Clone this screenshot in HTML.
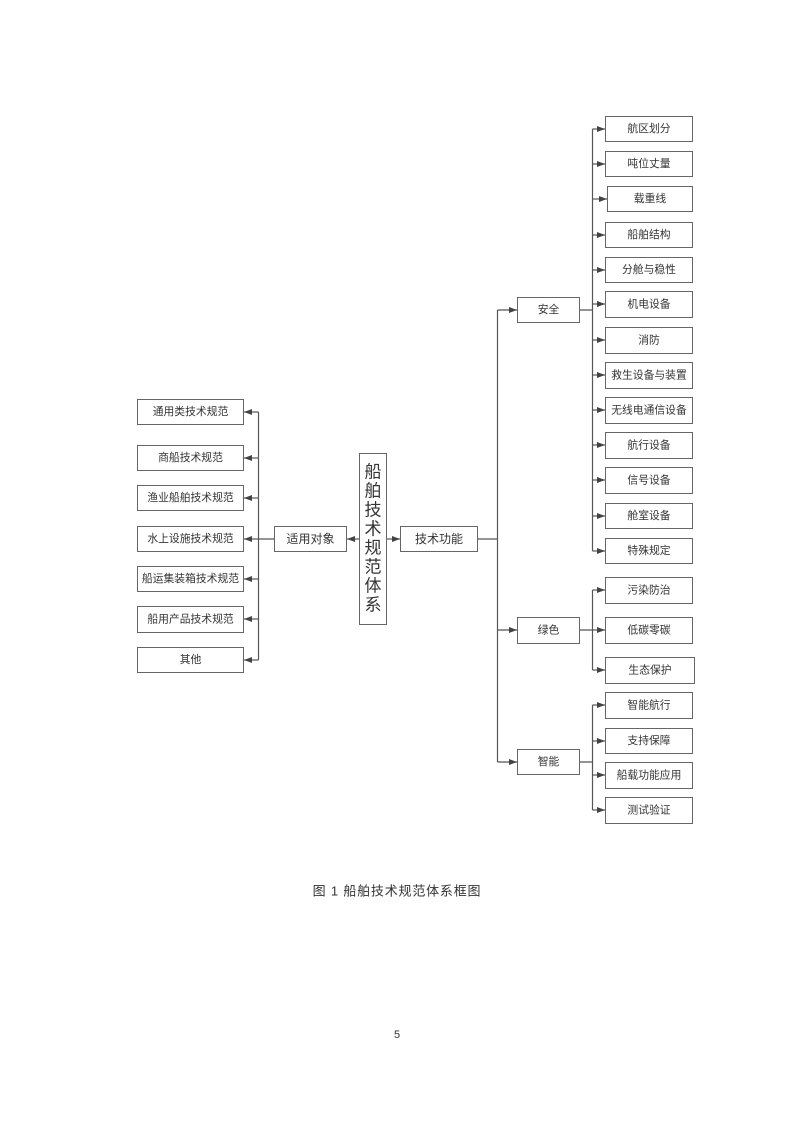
<!DOCTYPE html>
<html><head><meta charset="utf-8"><style>
html,body{margin:0;padding:0;background:#fff;}
svg{display:block;}
text{font-family:"Liberation Sans","Noto Sans CJK SC",sans-serif;fill:#333;}
</style></head><body>
<svg width="793" height="1122" viewBox="0 0 793 1122" xmlns="http://www.w3.org/2000/svg">
<defs>
<marker id="a" markerWidth="8" markerHeight="6" refX="8" refY="3" orient="auto" markerUnits="userSpaceOnUse"><path d="M0,0 L8,3 L0,6 z" fill="#444"/></marker>
</defs>
<g stroke="#666" stroke-width="1" fill="#fff">
<rect x="137.5" y="399.5" width="106" height="25"/>
<rect x="137.5" y="445.5" width="106" height="25"/>
<rect x="137.5" y="485.5" width="106" height="25"/>
<rect x="137.5" y="526.5" width="106" height="25"/>
<rect x="137.5" y="566.5" width="106" height="25"/>
<rect x="137.5" y="606.5" width="106" height="26"/>
<rect x="137.5" y="647.5" width="106" height="25"/>
<rect x="274.5" y="526.5" width="72" height="25"/>
<rect x="359.5" y="453.5" width="27" height="171"/>
<rect x="400.5" y="526.5" width="77" height="25"/>
<rect x="517.5" y="297.5" width="62" height="25"/>
<rect x="517.5" y="617.5" width="62" height="26"/>
<rect x="517.5" y="749.5" width="62" height="25"/>
<rect x="605.5" y="116.5" width="87" height="25"/>
<rect x="605.5" y="151.5" width="87" height="25"/>
<rect x="607.5" y="186.5" width="85" height="25"/>
<rect x="605.5" y="222.5" width="87" height="25"/>
<rect x="605.5" y="257.5" width="87" height="25"/>
<rect x="605.5" y="291.5" width="87" height="26"/>
<rect x="605.5" y="327.5" width="87" height="26"/>
<rect x="605.5" y="362.5" width="87" height="26"/>
<rect x="605.5" y="397.5" width="87" height="26"/>
<rect x="605.5" y="432.5" width="87" height="26"/>
<rect x="605.5" y="467.5" width="87" height="26"/>
<rect x="605.5" y="503.5" width="87" height="25"/>
<rect x="605.5" y="538.5" width="87" height="25"/>
<rect x="605.5" y="577.5" width="87" height="26"/>
<rect x="605.5" y="617.5" width="87" height="26"/>
<rect x="605.5" y="657.5" width="89" height="26"/>
<rect x="605.5" y="692.5" width="87" height="26"/>
<rect x="605.5" y="728.5" width="87" height="25"/>
<rect x="605.5" y="762.5" width="87" height="26"/>
<rect x="605.5" y="797.5" width="87" height="26"/>
</g>
<g stroke="#555" stroke-width="1.2" fill="none">
<path d="M274,539 H258.5 M258.5,412 V660"/>
<path d="M258.5,412 H244" marker-end="url(#a)"/>
<path d="M258.5,458 H244" marker-end="url(#a)"/>
<path d="M258.5,498 H244" marker-end="url(#a)"/>
<path d="M258.5,539 H244" marker-end="url(#a)"/>
<path d="M258.5,579 H244" marker-end="url(#a)"/>
<path d="M258.5,619 H244" marker-end="url(#a)"/>
<path d="M258.5,660 H244" marker-end="url(#a)"/>
<path d="M359,539 H347" marker-end="url(#a)"/>
<path d="M387,539 H400" marker-end="url(#a)"/>
<path d="M478,539 H497.5 M497.5,310 V762"/>
<path d="M497.5,310 H517" marker-end="url(#a)"/>
<path d="M497.5,630 H517" marker-end="url(#a)"/>
<path d="M497.5,762 H517" marker-end="url(#a)"/>
<path d="M580,310 H592.5 M592.5,129 V551"/>
<path d="M592.5,129 H605" marker-end="url(#a)"/>
<path d="M592.5,164 H605" marker-end="url(#a)"/>
<path d="M592.5,199 H607" marker-end="url(#a)"/>
<path d="M592.5,235 H605" marker-end="url(#a)"/>
<path d="M592.5,270 H605" marker-end="url(#a)"/>
<path d="M592.5,304 H605" marker-end="url(#a)"/>
<path d="M592.5,340 H605" marker-end="url(#a)"/>
<path d="M592.5,375 H605" marker-end="url(#a)"/>
<path d="M592.5,410 H605" marker-end="url(#a)"/>
<path d="M592.5,445 H605" marker-end="url(#a)"/>
<path d="M592.5,480 H605" marker-end="url(#a)"/>
<path d="M592.5,516 H605" marker-end="url(#a)"/>
<path d="M592.5,551 H605" marker-end="url(#a)"/>
<path d="M580,630 H592.5 M592.5,590 V670"/>
<path d="M592.5,590 H605" marker-end="url(#a)"/>
<path d="M592.5,630 H605" marker-end="url(#a)"/>
<path d="M592.5,670 H605" marker-end="url(#a)"/>
<path d="M580,762 H592.5 M592.5,705 V810"/>
<path d="M592.5,705 H605" marker-end="url(#a)"/>
<path d="M592.5,741 H605" marker-end="url(#a)"/>
<path d="M592.5,775 H605" marker-end="url(#a)"/>
<path d="M592.5,810 H605" marker-end="url(#a)"/>
</g>
<g font-size="10.8" text-anchor="middle" dominant-baseline="central">
<text x="190.5" y="412">通用类技术规范</text>
<text x="190.5" y="458">商船技术规范</text>
<text x="190.5" y="498">渔业船舶技术规范</text>
<text x="190.5" y="539">水上设施技术规范</text>
<text x="190.5" y="579">船运集装箱技术规范</text>
<text x="190.5" y="619.5">船用产品技术规范</text>
<text x="190.5" y="660">其他</text>
<text x="310.5" y="539" font-size="12">适用对象</text>
<text x="439" y="539" font-size="12">技术功能</text>
<text x="548.5" y="310">安全</text>
<text x="548.5" y="630.5">绿色</text>
<text x="548.5" y="762">智能</text>
<text x="649" y="129">航区划分</text>
<text x="649" y="164">吨位丈量</text>
<text x="650" y="199">载重线</text>
<text x="649" y="235">船舶结构</text>
<text x="649" y="270">分舱与稳性</text>
<text x="649" y="304.5">机电设备</text>
<text x="649" y="340.5">消防</text>
<text x="649" y="375.5">救生设备与装置</text>
<text x="649" y="410.5">无线电通信设备</text>
<text x="649" y="445.5">航行设备</text>
<text x="649" y="480.5">信号设备</text>
<text x="649" y="516">舱室设备</text>
<text x="649" y="551">特殊规定</text>
<text x="649" y="590.5">污染防治</text>
<text x="649" y="630.5">低碳零碳</text>
<text x="650" y="670.5">生态保护</text>
<text x="649" y="705.5">智能航行</text>
<text x="649" y="741">支持保障</text>
<text x="649" y="775.5">船载功能应用</text>
<text x="649" y="810.5">测试验证</text>
</g>
<g font-size="17" text-anchor="middle" dominant-baseline="central">
<text x="373" y="472">船</text>
<text x="373" y="491">舶</text>
<text x="373" y="510">技</text>
<text x="373" y="529">术</text>
<text x="373" y="548">规</text>
<text x="373" y="567">范</text>
<text x="373" y="586">体</text>
<text x="373" y="605">系</text>
</g>
<text x="397" y="891" font-size="13" text-anchor="middle" dominant-baseline="central" letter-spacing="0.8" fill="#111">图 1 船舶技术规范体系框图</text>
<text x="397" y="1035" font-size="11" text-anchor="middle" dominant-baseline="central">5</text>
</svg>
</body></html>
